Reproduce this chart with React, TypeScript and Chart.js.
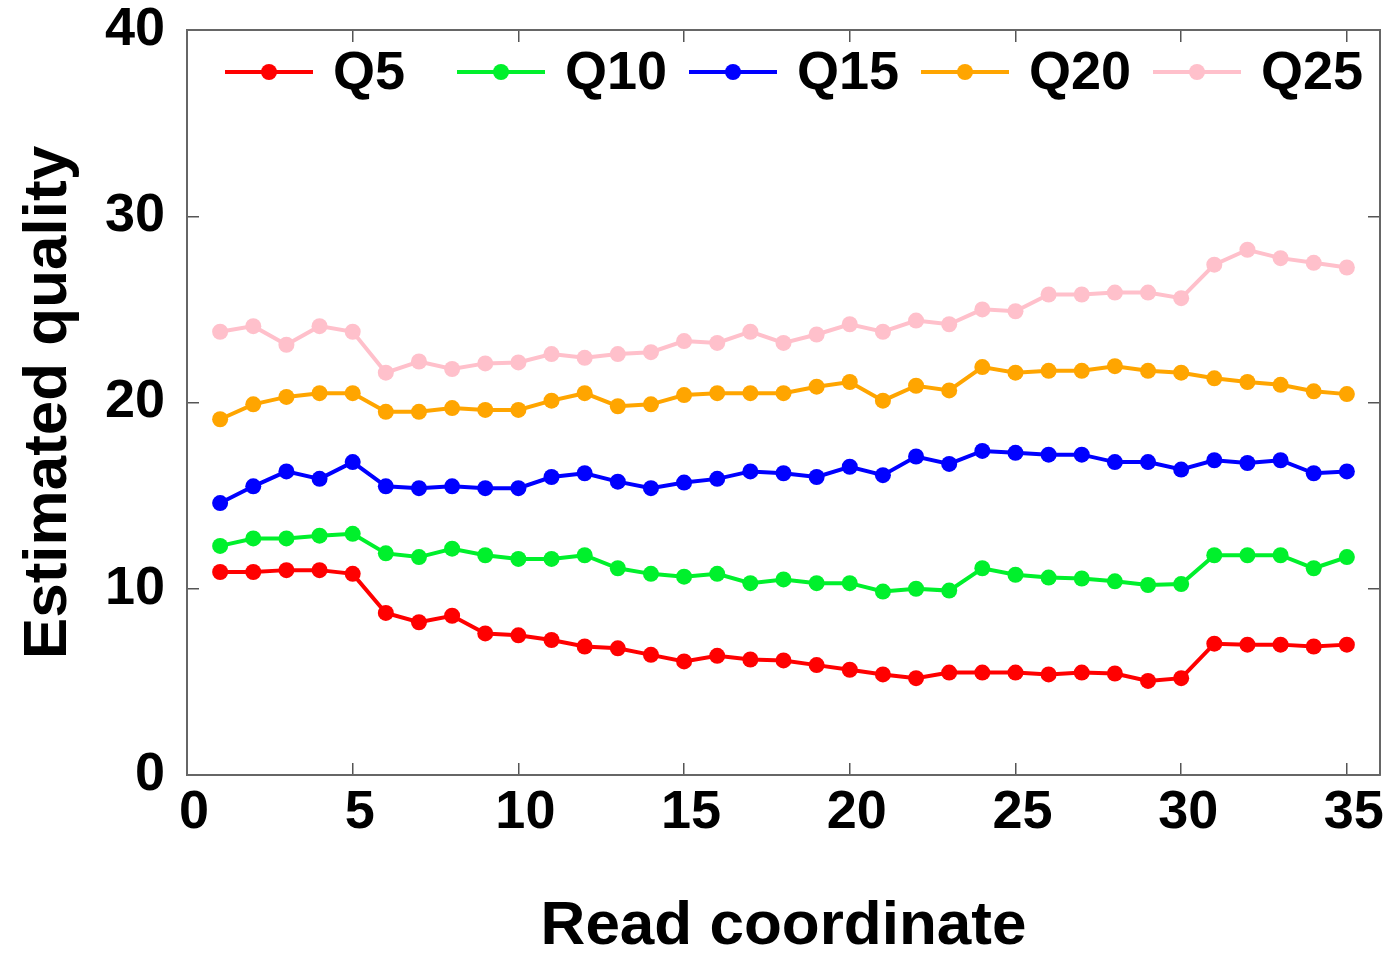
import React, { useEffect, useRef } from "react";
import { Chart, registerables } from "chart.js";

Chart.register(...registerables);

const readCoordinate = [1, 2, 3, 4, 5, 6, 7, 8, 9, 10, 11, 12, 13, 14, 15, 16, 17, 18, 19, 20, 21, 22, 23, 24, 25, 26, 27, 28, 29, 30, 31, 32, 33, 34, 35];

const q5 = [10.9, 10.9, 11.0, 11.0, 10.8, 8.7, 8.2, 8.55, 7.6, 7.5, 7.25, 6.9, 6.8, 6.45, 6.1, 6.4, 6.2, 6.15, 5.9, 5.65, 5.4, 5.2, 5.5, 5.5, 5.5, 5.4, 5.5, 5.45, 5.05, 5.2, 7.05, 7.0, 7.0, 6.9, 7.0];
const q10 = [12.3, 12.7, 12.7, 12.85, 12.95, 11.9, 11.7, 12.15, 11.8, 11.6, 11.6, 11.8, 11.1, 10.8, 10.65, 10.8, 10.3, 10.5, 10.3, 10.3, 9.85, 10.0, 9.9, 11.1, 10.75, 10.6, 10.55, 10.4, 10.2, 10.25, 11.8, 11.8, 11.8, 11.1, 11.7];
const q15 = [14.6, 15.5, 16.3, 15.9, 16.8, 15.5, 15.4, 15.5, 15.4, 15.4, 16.0, 16.2, 15.75, 15.4, 15.7, 15.9, 16.3, 16.2, 16.0, 16.55, 16.1, 17.1, 16.7, 17.4, 17.3, 17.2, 17.2, 16.8, 16.8, 16.4, 16.9, 16.75, 16.9, 16.2, 16.3];
const q20 = [19.1, 19.9, 20.3, 20.5, 20.5, 19.5, 19.5, 19.7, 19.6, 19.6, 20.1, 20.5, 19.8, 19.9, 20.4, 20.5, 20.5, 20.5, 20.85, 21.1, 20.1, 20.9, 20.65, 21.9, 21.6, 21.7, 21.7, 21.95, 21.7, 21.6, 21.3, 21.1, 20.95, 20.6, 20.45];
const q25 = [23.8, 24.1, 23.1, 24.1, 23.8, 21.6, 22.2, 21.8, 22.1, 22.15, 22.6, 22.4, 22.6, 22.7, 23.3, 23.2, 23.8, 23.2, 23.65, 24.2, 23.8, 24.4, 24.2, 25.0, 24.9, 25.8, 25.8, 25.9, 25.9, 25.6, 27.4, 28.2, 27.75, 27.5, 27.25];

const seriesLabels = ["Q5", "Q10", "Q15", "Q20", "Q25"];
const seriesColors = ["#ff0000", "#00f02c", "#0000ff", "#ffa500", "#ffc0cb"];
const seriesValues = [q5, q10, q15, q20, q25];

const xTickValues = [0, 5, 10, 15, 20, 25, 30, 35];
const yTickValues = [0, 10, 20, 30, 40];

const xTitle = "Read coordinate";
const yTitle = "Estimated quality";

const FONT = "'Liberation Sans', Arial, Helvetica, sans-serif";

const insideLegend = {
  id: "insideLegend",
  afterDatasetsDraw(chart: any) {
    const { ctx, chartArea } = chart;
    ctx.save();
    const y = chartArea.top + 42;
    chart.data.datasets.forEach((ds: any, i: number) => {
      const x0 = chartArea.left + 38 + i * 232;
      ctx.strokeStyle = ds.borderColor;
      ctx.lineWidth = 4;
      ctx.beginPath();
      ctx.moveTo(x0, y);
      ctx.lineTo(x0 + 88, y);
      ctx.stroke();
      ctx.fillStyle = ds.backgroundColor;
      ctx.beginPath();
      ctx.arc(x0 + 44, y, 8, 0, Math.PI * 2);
      ctx.fill();
      ctx.fillStyle = "#000";
      ctx.font = `bold 54px ${FONT}`;
      ctx.textBaseline = "middle";
      ctx.textAlign = "left";
      ctx.fillText(ds.label, x0 + 108, y + 2);
    });
    ctx.restore();
  },
};

export default function App() {
  const canvasRef = useRef<HTMLCanvasElement | null>(null);

  useEffect(() => {
    if (!canvasRef.current) return;
    const datasets = seriesValues.map((vals, i) => ({
      label: seriesLabels[i],
      data: readCoordinate.map((x, j) => ({ x, y: vals[j] })),
      borderColor: seriesColors[i],
      backgroundColor: seriesColors[i],
      pointBackgroundColor: seriesColors[i],
      pointBorderColor: seriesColors[i],
      borderWidth: 4,
      pointRadius: 8,
      pointBorderWidth: 0,
      tension: 0,
      fill: false,
    }));

    const border = { display: true, color: "#666", width: 2 };
    const grid = { drawOnChartArea: false, drawTicks: true, tickLength: -12, color: "#555", lineWidth: 1.5 };
    const setXTicks = (scale: any) => {
      scale.ticks = xTickValues.map((v) => ({ value: v }));
    };
    const setYTicks = (scale: any) => {
      scale.ticks = yTickValues.map((v) => ({ value: v }));
    };
    const noPad = (s: any) => {
      s.paddingTop = 0;
      s.paddingBottom = 0;
      s.paddingLeft = 0;
      s.paddingRight = 0;
    };

    const chart = new Chart(canvasRef.current, {
      type: "line",
      data: { datasets },
      plugins: [insideLegend],
      options: {
        animation: false,
        responsive: true,
        maintainAspectRatio: false,
        layout: { padding: { top: 30, right: 13, left: 0, bottom: 0 } },
        plugins: {
          legend: { display: false },
          tooltip: { enabled: false },
        },
        scales: {
          x: {
            type: "linear",
            position: "bottom",
            min: 0,
            max: 36,
            border,
            grid,
            afterBuildTicks: setXTicks,
            afterFit: (s: any) => {
              s.height = 178;
              noPad(s);
            },
            ticks: {
              stepSize: 5,
              color: "#000",
              padding: 18,
              labelOffset: 7,
              maxRotation: 0,
              autoSkip: false,
              font: { family: FONT, size: 54, weight: "bold" },
            },
            title: {
              display: true,
              text: xTitle,
              color: "#000",
              padding: { top: 0, bottom: -11 },
              font: { family: FONT, size: 62, weight: "bold" },
            },
          },
          x2: {
            type: "linear",
            position: "top",
            min: 0,
            max: 36,
            border,
            grid,
            afterBuildTicks: setXTicks,
            afterFit: (s: any) => {
              s.height = 0;
              noPad(s);
            },
            ticks: { display: false, stepSize: 5 },
          },
          y: {
            type: "linear",
            position: "left",
            min: 0,
            max: 40,
            border,
            grid,
            afterBuildTicks: setYTicks,
            afterFit: (s: any) => {
              s.width = 187;
              noPad(s);
            },
            ticks: {
              stepSize: 10,
              color: "#000",
              padding: 34,
              autoSkip: false,
              font: { family: FONT, size: 54, weight: "bold" },
            },
            title: {
              display: true,
              text: yTitle,
              color: "#000",
              padding: { top: 12, bottom: 0 },
              font: { family: FONT, size: 62, weight: "bold" },
            },
          },
          y2: {
            type: "linear",
            position: "right",
            min: 0,
            max: 40,
            border,
            grid,
            afterBuildTicks: setYTicks,
            afterFit: (s: any) => {
              s.width = 0;
              noPad(s);
            },
            ticks: { display: false, stepSize: 10 },
          },
        },
      } as any,
    });
    return () => chart.destroy();
  }, []);

  return (
    <div style={{ position: "fixed", left: 0, top: 0, width: 1393, height: 953, background: "#fff" }}>
      <canvas ref={canvasRef} />
    </div>
  );
}
